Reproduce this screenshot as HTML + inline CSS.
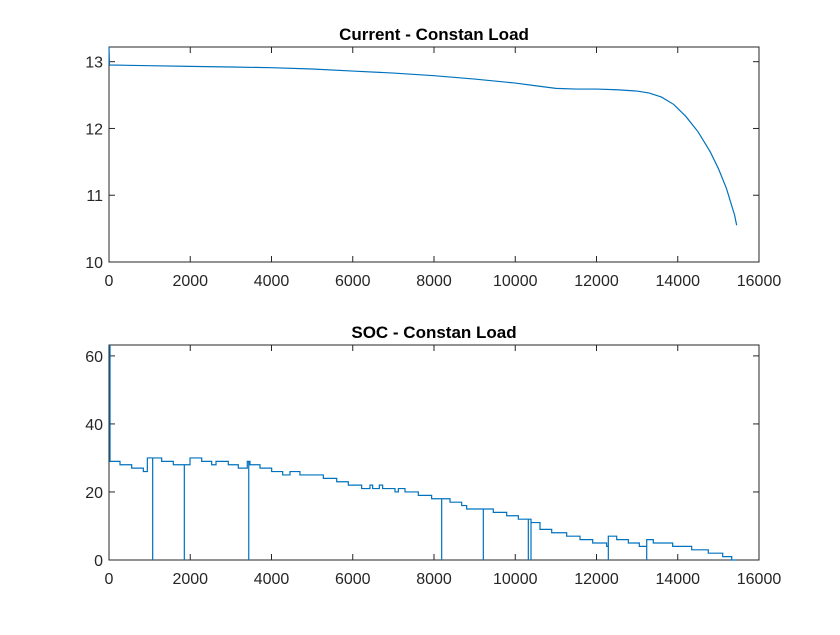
<!DOCTYPE html>
<html><head><meta charset="utf-8"><style>
body{margin:0;background:#fff;}
svg text{font-family:"Liberation Sans",Arial,sans-serif;fill:#262626;}
</style></head><body>
<svg id="c" width="840" height="630"></svg>
<script>
// Top: current
const curX=[0,5,10,25,1000,2000,3000,4000,5000,6000,7000,8000,9000,10000,10500,11000,11500,12000,12500,13000,13300,13600,13900,14200,14500,14800,15000,15200,15300,15400,15450];
const curY=[13.22,13.1,12.96,12.95,12.94,12.93,12.92,12.91,12.89,12.86,12.83,12.79,12.74,12.68,12.64,12.6,12.59,12.59,12.58,12.56,12.53,12.47,12.36,12.18,11.95,11.65,11.4,11.1,10.9,10.7,10.55];
// Bottom: SOC step levels (level starts at stepX)
const stepX=[0,25,271,558,845,944,1075,1296,1583,1854,1994,2281,2527,2634,2937,3183,3404,3470,3717,4004,4275,4455,4700,5276,5605,5891,6219,6424,6490,6654,6736,7040,7122,7286,7614,7942,8394,8681,8804,9460,9789,10076,10388,10609,10897,11266,11594,11906,12250,12291,12497,12783,13054,13236,13398,13875,14343,14752,15106,15328,15434];
const stepY=[63,29,28,27,26,30,30,29,28,28,30,29,28,29,28,27,29,28,27,26,25,26,25,24,23,22,21,22,21,22,21,20,21,20,19,18,17,16,15,14,13,12,11,9,8,7,6,5,4,7,6,5,4,6,5,4,3,2,1,0,0];
const dropX=[1075,1854,3440,8189,9214,10322,10388,12291,13236];
const xTicks=[0,2000,4000,6000,8000,10000,12000,14000,16000];
const curTicks=[10,11,12,13];
const socTicks=[0,20,40,60];

const NS="http://www.w3.org/2000/svg";
const svg=document.getElementById('c');
function mk(t,a,p){const e=document.createElementNS(NS,t);for(const k in a)e.setAttribute(k,a[k]);(p||svg).appendChild(e);return e;}
function axes(box,xmax,ymin,ymax,yt,title,name){
  const g=mk('g',{});
  
  
  const sx=v=>box.x+(v/xmax)*box.w, sy=v=>box.y+box.h-(v-ymin)/(ymax-ymin)*box.h;
  xTicks.forEach(t=>{const x=sx(t);
    mk('line',{x1:x,x2:x,y1:box.y+box.h,y2:box.y+box.h-6,stroke:'#262626'},g);
    mk('line',{x1:x,x2:x,y1:box.y,y2:box.y+6,stroke:'#262626'},g);
    const tx=mk('text',{x:x,y:box.y+box.h+24,'text-anchor':'middle','font-size':16},g);tx.textContent=t;
    });
  yt.forEach(t=>{const y=sy(t);
    mk('line',{x1:box.x,x2:box.x+6,y1:y,y2:y,stroke:'#262626'},g);
    mk('line',{x1:box.x+box.w,x2:box.x+box.w-6,y1:y,y2:y,stroke:'#262626'},g);
    const tx=mk('text',{x:box.x-6,y:y+6,'text-anchor':'end','font-size':16},g);tx.textContent=t;
    });
  const r=mk('rect',{x:box.x,y:box.y,width:box.w,height:box.h,fill:'none',stroke:'#262626','stroke-width':1},g);
  
  const tt=mk('text',{x:box.x+box.w/2,y:box.y-7,'text-anchor':'middle','font-size':17,'font-weight':'bold',style:'fill:#000'},g);
  tt.textContent=title;
  return {sx,sy,g};
}
const A=axes({x:109,y:47,w:650,h:215},16000,10,13.22,curTicks,'Current - Constan Load','current-axes');
let d=curX.map((x,i)=>(i?'L':'M')+A.sx(x).toFixed(2)+','+A.sy(curY[i]).toFixed(2)).join('');
const p1=mk('path',{d:d,fill:'none',stroke:'#0072BD','stroke-width':1.2},A.g);


const B=axes({x:109,y:345,w:650,h:215},16000,0,63.2,socTicks,'SOC - Constan Load','soc-axes');
let pts=[];
for(let i=0;i<stepX.length;i++){
  const x0=stepX[i], x1=i+1<stepX.length?stepX[i+1]:stepX[i], y=stepY[i];
  pts.push([x0,y]);
  dropX.filter(dx=>dx>=x0&&dx<x1).forEach(dx=>{pts.push([dx,y],[dx,0],[dx,y]);});
  pts.push([x1,y]);
}
d=pts.map((p,i)=>(i?'L':'M')+B.sx(p[0]).toFixed(2)+','+B.sy(p[1]).toFixed(2)).join('');
const p2=mk('path',{d:d,fill:'none',stroke:'#0072BD','stroke-width':1.2},B.g);

</script>
</body></html>
